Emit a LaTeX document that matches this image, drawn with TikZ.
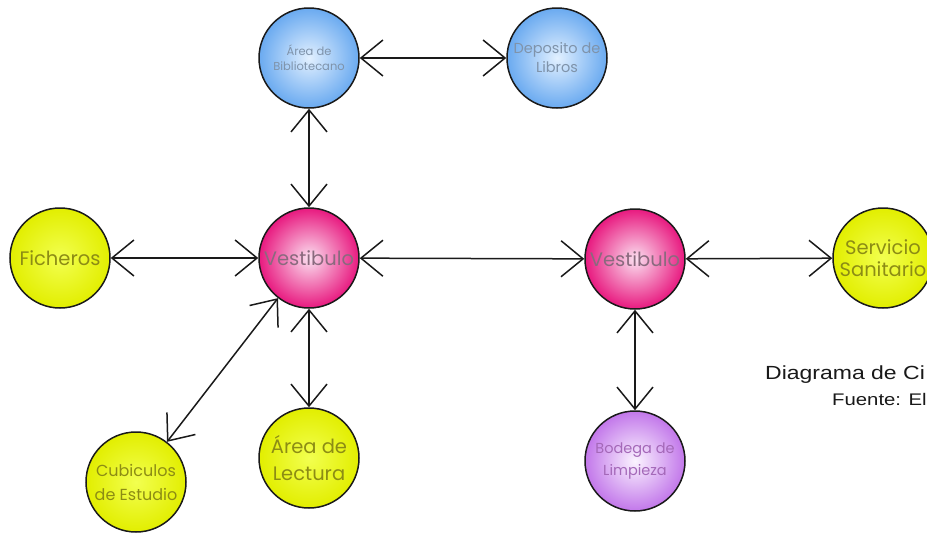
\documentclass[tikz,border=0pt]{standalone}
\usepackage{fontspec}
\setmainfont{Poppins}
\newfontfamily\arialfont{Liberation Sans}
\usetikzlibrary{arrows.meta}
\definecolor{blueIn}{HTML}{E2F0FF}
\definecolor{blueOut}{HTML}{6AAAF0}
\definecolor{blueTxt}{HTML}{7F93AA}
\definecolor{pinkIn}{HTML}{FBE0F0}
\definecolor{pinkOut}{HTML}{E8197F}
\definecolor{pinkTxt}{HTML}{8A6A7E}
\definecolor{yelIn}{HTML}{F2FF50}
\definecolor{yelOut}{HTML}{E2EE00}
\definecolor{yelTxt}{HTML}{8C8C14}
\definecolor{purIn}{HTML}{FBF4FF}
\definecolor{purOut}{HTML}{C277EA}
\definecolor{purTxt}{HTML}{A468B8}
\definecolor{lineC}{HTML}{1A1A1A}
\tikzset{
  room/.style={circle, draw=lineC, line width=1.5pt, minimum size=100pt, inner sep=0pt, align=center},
  blueroom/.style={room, inner color=blueIn, outer color=blueOut, text=blueTxt},
  pinkroom/.style={room, inner color=pinkIn, outer color=pinkOut, text=pinkTxt},
  yelroom/.style={room, inner color=yelIn, outer color=yelOut, text=yelTxt},
  purroom/.style={room, inner color=purIn, outer color=purOut, text=purTxt},
  link/.style={{Straight Barb[length=22pt,width=36pt]}-{Straight Barb[length=22pt,width=36pt]}, line width=1.5pt, draw=lineC},
  caption/.style={inner sep=0pt, text=black!90, font=\arialfont}
}
\begin{document}
\begin{tikzpicture}[x=1pt,y=-1pt]
\useasboundingbox (0,0) rectangle (927,533);
\clip (0,0) rectangle (927,533);
\fill[white] (0,0) rectangle (927,533);
\node[blueroom, font=\fontsize{11.5}{15}\selectfont] (bib) at (309,58) {Área de\\Bibliotecano};
\node[blueroom, font=\fontsize{14.5}{19}\selectfont] (dep) at (557,58) {Deposito de\\Libros};
\node[yelroom, font=\fontsize{19.5}{22}\selectfont] (fic) at (60,258) {Ficheros};
\node[pinkroom, font=\fontsize{19.5}{22}\selectfont] (ve1) at (309,258) {Vestibulo};
\node[pinkroom, font=\fontsize{19.5}{22}\selectfont] (ve2) at (635,259) {Vestibulo};
\node[yelroom, font=\fontsize{19.5}{22}\selectfont] (san) at (883,258) {Servicio\\Sanitario};
\node[yelroom, font=\fontsize{16}{24}\selectfont] (cub) at (136,482) {Cubiculos\\de Estudio};
\node[yelroom, font=\fontsize{19.5}{27}\selectfont] (lec) at (309,458) {Área de\\Lectura};
\node[purroom, font=\fontsize{14.5}{22}\selectfont] (bod) at (635,461) {Bodega de\\Limpieza};
\draw[link] (bib) -- (dep);
\draw[link] (bib) -- (ve1);
\draw[link] (fic) -- (ve1);
\draw[link] (ve1) -- (ve2);
\draw[link] (ve2) -- (san);
\draw[link] (ve1) -- (lec);
\draw[link] (ve1) -- (cub);
\draw[link] (ve2) -- (bod);
\node[caption, anchor=base west, font=\arialfont\fontsize{19}{19}\selectfont] (cap1) at (765,379) {\scalebox{1.21}[1]{Diagrama de Ci}};
\node[caption, anchor=base west, font=\arialfont\fontsize{16.8}{17}\selectfont] (cap2) at (832,405) {\scalebox{1.21}[1]{Fuente: El}};
\end{tikzpicture}
\end{document}
